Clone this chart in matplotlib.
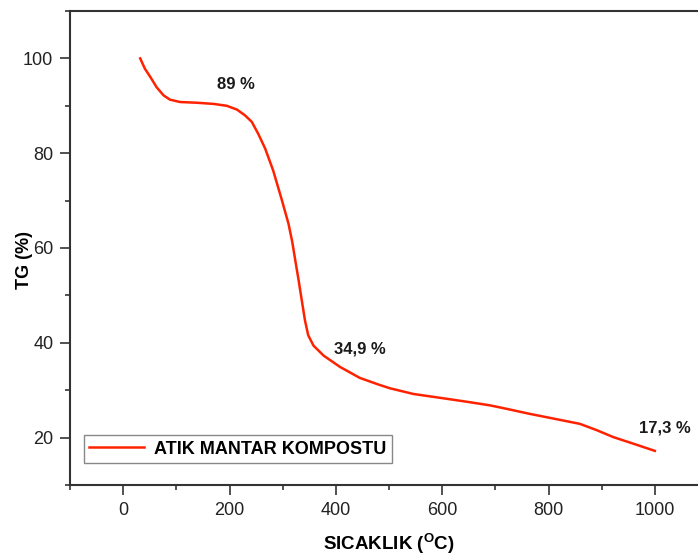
import numpy as np
import matplotlib
matplotlib.use("Agg")
from matplotlib import pyplot as plt
from matplotlib.ticker import MultipleLocator

plt.rcParams['font.family'] = ['Liberation Sans', 'DejaVu Sans']
plt.rcParams['mathtext.fontset'] = 'custom'
plt.rcParams['mathtext.rm'] = 'Liberation Sans:bold'
plt.rcParams['mathtext.bf'] = 'Liberation Sans:bold'

# TG curve
temp = [32, 41, 51, 63, 76, 88, 107, 138, 170, 195, 214, 229, 242, 254, 267,
        282, 298, 311, 318, 324, 330, 336, 342, 348, 358, 377, 408, 445, 480,
        502, 546, 608, 650, 690, 720, 765, 810, 859, 890, 922, 960, 1000]
tg = [100.0, 97.8, 96.1, 93.9, 92.2, 91.3, 90.8, 90.65, 90.4, 90.0, 89.2,
      88.0, 86.6, 84.1, 81.0, 76.4, 70.3, 65.1, 61.3, 57.2, 53.2, 48.9, 44.7,
      41.6, 39.4, 37.3, 34.9, 32.6, 31.2, 30.4, 29.2, 28.2, 27.5, 26.8, 26.1,
      25.0, 24.0, 22.9, 21.6, 20.1, 18.7, 17.2]

notes = ["89 %", "34,9 %", "17,3 %"]
note_x = [212, 445, 1019]
note_y = [94.5, 38.6, 22.0]

fig = plt.figure(figsize=(6.98, 5.59), dpi=100)
ax = fig.add_axes([70 / 698, 74 / 559, 638 / 698, 474 / 559])

ax.plot(temp, tg, color='#ff2200', lw=1.8, label="ATIK MANTAR KOMPOSTU",
        solid_joinstyle='round')

for t, x, y in zip(notes, note_x, note_y):
    ax.text(x, y, t, fontsize=12, fontweight='bold', ha='center', va='center',
            color='#1a1a1a')

ax.set_xlim(-100, 1100)
ax.set_ylim(10, 110)
ax.xaxis.set_major_locator(MultipleLocator(200))
ax.xaxis.set_minor_locator(MultipleLocator(100))
ax.yaxis.set_major_locator(MultipleLocator(20))
ax.yaxis.set_minor_locator(MultipleLocator(10))
ax.tick_params(which='major', direction='out', length=7, width=1.2,
               labelsize=13, pad=5, colors='#333333', labelcolor='#222222')
ax.tick_params(which='minor', direction='out', length=3.6, width=1.2,
               colors='#333333')
for s in ax.spines.values():
    s.set_linewidth(1.5)
    s.set_color('#333333')

ax.set_xlabel(r"SICAKLIK ($^{\mathbf{O}}$C)", fontsize=13.5, fontweight='bold',
              labelpad=9)
ax.set_ylabel("TG (%)", fontsize=13, fontweight='bold')
ax.yaxis.set_label_coords(-0.058, 0.475)

leg = ax.legend(loc='lower left', bbox_to_anchor=(0.022, 0.046),
                borderaxespad=0, fancybox=False, edgecolor='#888888',
                framealpha=1, handlelength=3.0, handletextpad=0.6,
                borderpad=0.3, prop={'weight': 'bold', 'size': 13})
leg.get_frame().set_linewidth(1.0)

fig.savefig("out.png", dpi=100)
